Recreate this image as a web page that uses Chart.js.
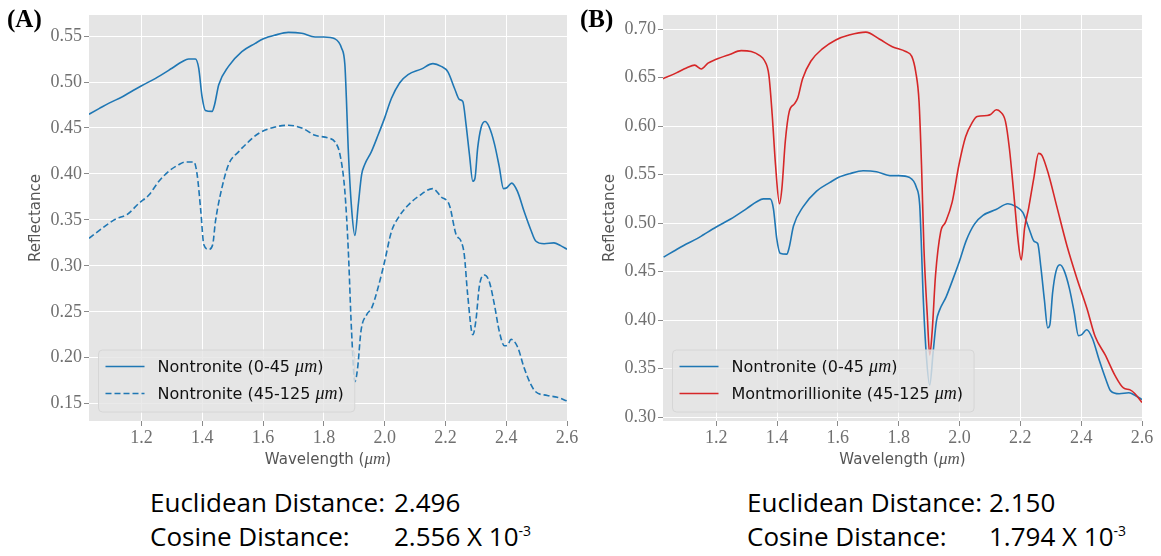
<!DOCTYPE html>
<html>
<head>
<meta charset="utf-8">
<script src="https://cdn.jsdelivr.net/npm/chart.js@4.4.0/dist/chart.umd.min.js"></script>
<style>
  body { margin: 0; background: #fff; width: 1161px; height: 556px; position: relative; overflow: hidden; }
  .panel { position: absolute; top: 0; }
  .tag { position: absolute; top: 6px; font: bold 25px "Liberation Serif", serif; line-height: 1; color: #000; }
  .stat { position: absolute; font: 26px "Open Sans", sans-serif; line-height: 34px; color: #000; white-space: nowrap; }
  .stat .val { position: absolute; top: 0; }
  .stat sup { font-size: 14px; vertical-align: 10px; line-height: 0; }
</style>
</head>
<body>

<div class="panel" style="left:0;width:580px;height:480px"><canvas id="chartA" width="580" height="480"></canvas></div>
<div class="panel" style="left:580px;width:581px;height:480px"><canvas id="chartB" width="581" height="480"></canvas></div>

<div class="tag" style="left:7px">(A)</div>
<div class="tag" style="left:580px">(B)</div>

<div class="stat" style="left:150px;top:485px">Euclidean Distance:<span class="val" style="left:244px">2.496</span></div>
<div class="stat" style="left:150px;top:519px">Cosine Distance:<span class="val" style="left:244px">2.556 X 10<sup>-3</sup></span></div>
<div class="stat" style="left:747px;top:485px">Euclidean Distance:<span class="val" style="left:242px">2.150</span></div>
<div class="stat" style="left:747px;top:519px">Cosine Distance:<span class="val" style="left:242px">1.794 X 10<sup>-3</sup></span></div>

<script>
// ── Data ─────────────────────────────────────────────────────
const xTicks = [1.2, 1.4, 1.6, 1.8, 2.0, 2.2, 2.4, 2.6];
const yTicksA = [0.15, 0.20, 0.25, 0.30, 0.35, 0.40, 0.45, 0.50, 0.55];
const yTicksB = [0.30, 0.35, 0.40, 0.45, 0.50, 0.55, 0.60, 0.65, 0.70];

// Nontronite 0-45 µm
const wlNontFine = [1.027,1.060,1.093,1.137,1.158,1.200,1.246,1.300,1.333,1.355,1.377,1.388,1.399,1.410,1.432,1.440,1.454,1.486,1.530,1.574,1.601,1.639,1.683,1.727,1.771,1.800,1.836,1.858,1.869,1.874,1.880,1.891,1.902,1.913,1.924,1.934,1.956,1.978,2.000,2.022,2.049,2.077,2.120,2.159,2.186,2.208,2.230,2.246,2.257,2.268,2.279,2.290,2.297,2.306,2.317,2.330,2.344,2.361,2.377,2.391,2.402,2.418,2.437,2.459,2.481,2.497,2.525,2.557,2.579,2.600];
const reflNontFine = [0.465,0.471,0.477,0.484,0.488,0.496,0.504,0.515,0.522,0.525,0.525,0.515,0.484,0.469,0.468,0.475,0.497,0.517,0.533,0.542,0.547,0.551,0.554,0.553,0.549,0.549,0.547,0.537,0.519,0.482,0.428,0.363,0.333,0.366,0.399,0.410,0.424,0.442,0.461,0.482,0.499,0.508,0.514,0.520,0.517,0.511,0.493,0.481,0.479,0.453,0.421,0.392,0.395,0.428,0.450,0.457,0.451,0.433,0.408,0.384,0.385,0.390,0.381,0.359,0.339,0.327,0.324,0.325,0.322,0.318];

// Nontronite 45-125 µm
const wlNontCoarse = [1.027,1.071,1.115,1.153,1.191,1.224,1.257,1.290,1.322,1.344,1.372,1.383,1.394,1.405,1.421,1.434,1.443,1.459,1.486,1.519,1.552,1.585,1.639,1.683,1.727,1.771,1.815,1.836,1.853,1.869,1.880,1.891,1.902,1.911,1.922,1.941,1.957,1.978,2.000,2.022,2.044,2.077,2.109,2.158,2.186,2.213,2.235,2.251,2.262,2.273,2.290,2.300,2.312,2.328,2.344,2.361,2.377,2.394,2.405,2.416,2.437,2.459,2.481,2.497,2.535,2.568,2.600];
const reflNontCoarse = [0.330,0.341,0.351,0.356,0.368,0.377,0.392,0.403,0.410,0.413,0.413,0.399,0.363,0.323,0.318,0.323,0.348,0.377,0.410,0.424,0.435,0.444,0.451,0.453,0.450,0.442,0.439,0.435,0.421,0.381,0.319,0.229,0.174,0.189,0.229,0.247,0.254,0.276,0.305,0.337,0.352,0.366,0.375,0.384,0.375,0.366,0.334,0.327,0.312,0.269,0.225,0.240,0.279,0.290,0.283,0.258,0.229,0.213,0.214,0.220,0.212,0.189,0.171,0.163,0.159,0.157,0.153];

// Montmorillionite 45-125 µm
const wlMont = [1.025,1.069,1.102,1.129,1.151,1.173,1.200,1.244,1.282,1.315,1.342,1.358,1.373,1.384,1.395,1.408,1.416,1.427,1.440,1.457,1.468,1.484,1.511,1.550,1.593,1.637,1.692,1.736,1.779,1.823,1.843,1.856,1.867,1.875,1.883,1.894,1.902,1.910,1.921,1.938,1.954,1.976,1.998,2.020,2.042,2.058,2.091,2.102,2.121,2.134,2.151,2.164,2.178,2.193,2.203,2.214,2.227,2.244,2.260,2.271,2.293,2.320,2.353,2.386,2.419,2.446,2.479,2.511,2.539,2.561,2.577,2.600];
const reflMont = [0.649,0.655,0.660,0.663,0.659,0.665,0.669,0.674,0.678,0.677,0.673,0.668,0.653,0.612,0.560,0.520,0.536,0.584,0.615,0.623,0.629,0.649,0.667,0.680,0.689,0.694,0.697,0.690,0.682,0.677,0.672,0.656,0.625,0.560,0.474,0.405,0.364,0.388,0.446,0.491,0.501,0.522,0.560,0.589,0.604,0.610,0.611,0.612,0.617,0.615,0.605,0.577,0.532,0.481,0.462,0.495,0.515,0.546,0.572,0.570,0.550,0.517,0.477,0.443,0.412,0.383,0.364,0.343,0.330,0.328,0.324,0.315];

const BLUE = '#1f77b4';
const RED = '#d62728';

// ── Helpers ──────────────────────────────────────────────────
const pairs = (xs, ys) => xs.map((x, i) => ({ x, y: ys[i] }));
const SANS = '"DejaVu Sans", sans-serif';
const MATH = '"Liberation Serif", serif';

// split a label at "μm" so the unit can be set in math italic
function mathParts(text, sansFont, italFont) {
  const m = text.match(/^(.*?)(μm)(.*)$/);
  return m ? [[m[1], sansFont], [m[2], italFont], [m[3], sansFont]] : [[text, sansFont]];
}
function partsWidth(ctx, parts) {
  let w = 0;
  parts.forEach(p => { ctx.font = p[1]; w += ctx.measureText(p[0]).width; });
  return w;
}
function drawParts(ctx, parts, x, y) {
  parts.forEach(p => {
    ctx.font = p[1];
    ctx.fillText(p[0], x, y);
    x += ctx.measureText(p[0]).width;
  });
}

const plotBg = {
  id: 'plotBg',
  beforeDraw(chart) {
    const { ctx, chartArea: a } = chart;
    ctx.save();
    ctx.fillStyle = '#e5e5e5';
    ctx.fillRect(a.left, a.top, a.right - a.left, a.bottom - a.top);
    ctx.restore();
  }
};

// x axis title with the unit in italics
const xTitle = {
  id: 'xTitle',
  afterDraw(chart) {
    const { ctx, chartArea: a } = chart;
    const parts = mathParts('Wavelength (μm)', '15px ' + SANS, 'italic 17px ' + MATH);
    ctx.save();
    ctx.fillStyle = '#555';
    ctx.textBaseline = 'middle';
    const w = partsWidth(ctx, parts);
    drawParts(ctx, parts, (a.left + a.right) / 2 - w / 2, a.bottom + 39);
    ctx.restore();
  }
};

// legend box inside the lower-left corner of the plot
const insetLegend = {
  id: 'insetLegend',
  afterDatasetsDraw(chart) {
    const { ctx, chartArea: a } = chart;
    const rows = chart.data.datasets.map(ds => {
      const parts = mathParts(ds.label, '16px ' + SANS, 'italic 18px ' + MATH);
      return { ds, parts, w: partsWidth(ctx, parts) };
    });
    const maxW = Math.max(...rows.map(r => r.w));
    const bx = a.left + 9.5, bh = 62, by = a.bottom - 9 - bh, bw = 70 + maxW;

    ctx.save();
    ctx.beginPath();
    ctx.roundRect(bx, by, bw, bh, 4);
    ctx.fillStyle = 'rgba(229,229,229,0.8)';
    ctx.fill();
    ctx.strokeStyle = '#d6d6d6';
    ctx.lineWidth = 1;
    ctx.stroke();

    rows.forEach((r, i) => {
      const y = by + 16.5 + i * 27;
      ctx.beginPath();
      ctx.setLineDash(r.ds.borderDash || []);
      ctx.strokeStyle = r.ds.borderColor;
      ctx.lineWidth = 1.6;
      ctx.moveTo(bx + 7, y);
      ctx.lineTo(bx + 46, y);
      ctx.stroke();
      ctx.setLineDash([]);
      ctx.fillStyle = '#111';
      ctx.textBaseline = 'middle';
      drawParts(ctx, r.parts, bx + 59, y + 1);
    });
    ctx.restore();
  }
};

function makeScales(xMin, yMin, yMax, yTicks, yWidth, yTitlePad) {
  const tickFont = { family: MATH, size: 18 };
  const grid = { color: '#ffffff', lineWidth: 1, tickColor: '#8a8a8a', tickLength: 5 };
  return {
    x: {
      type: 'linear', min: xMin, max: 2.6,
      grid, border: { display: false },
      afterBuildTicks: s => { s.ticks = xTicks.map(v => ({ value: v })); },
      afterFit: s => { s.height = 59; },
      ticks: { color: '#707070', font: tickFont, padding: 1, autoSkip: false, maxRotation: 0, callback: v => v.toFixed(1) }
    },
    y: {
      type: 'linear', min: yMin, max: yMax,
      grid, border: { display: false },
      afterBuildTicks: s => { s.ticks = yTicks.map(v => ({ value: v })); },
      afterFit: s => { s.width = yWidth; },
      ticks: { color: '#707070', font: tickFont, padding: 2, autoSkip: false, callback: v => v.toFixed(2) },
      title: { display: true, text: 'Reflectance', color: '#555', font: { family: SANS, size: 15 }, padding: { top: yTitlePad, bottom: 0 } }
    }
  };
}

function lineDs(label, xs, ys, color, extra) {
  return Object.assign({
    label, data: pairs(xs, ys),
    borderColor: color, backgroundColor: color, borderWidth: 1.6,
    pointRadius: 0, cubicInterpolationMode: 'monotone', fill: false
  }, extra || {});
}

const common = {
  responsive: false,
  animation: false,
  events: [],
  plugins: { legend: { display: false }, tooltip: { enabled: false } }
};

// ── Panel A ──────────────────────────────────────────────────
new Chart(document.getElementById('chartA'), {
  type: 'line',
  data: {
    datasets: [
      lineDs('Nontronite (0-45 μm)', wlNontFine, reflNontFine, BLUE),
      lineDs('Nontronite (45-125 μm)', wlNontCoarse, reflNontCoarse, BLUE, { borderDash: [6, 3] })
    ]
  },
  options: Object.assign({}, common, {
    layout: { padding: { left: 0, right: 13, top: 15, bottom: 0 } },
    scales: makeScales(1.027, 0.1312, 0.5729, yTicksA, 89, 27)
  }),
  plugins: [plotBg, insetLegend, xTitle]
});

// ── Panel B ──────────────────────────────────────────────────
new Chart(document.getElementById('chartB'), {
  type: 'line',
  data: {
    datasets: [
      lineDs('Nontronite (0-45 μm)', wlNontFine, reflNontFine, BLUE, { order: 1 }),
      lineDs('Montmorillionite (45-125 μm)', wlMont, reflMont, RED, { order: 0 })
    ]
  },
  options: Object.assign({}, common, {
    layout: { padding: { left: 0, right: 19, top: 15, bottom: 0 } },
    scales: makeScales(1.025, 0.2959, 0.7147, yTicksB, 83, 21.5)
  }),
  plugins: [plotBg, insetLegend, xTitle]
});
</script>
</body>
</html>
